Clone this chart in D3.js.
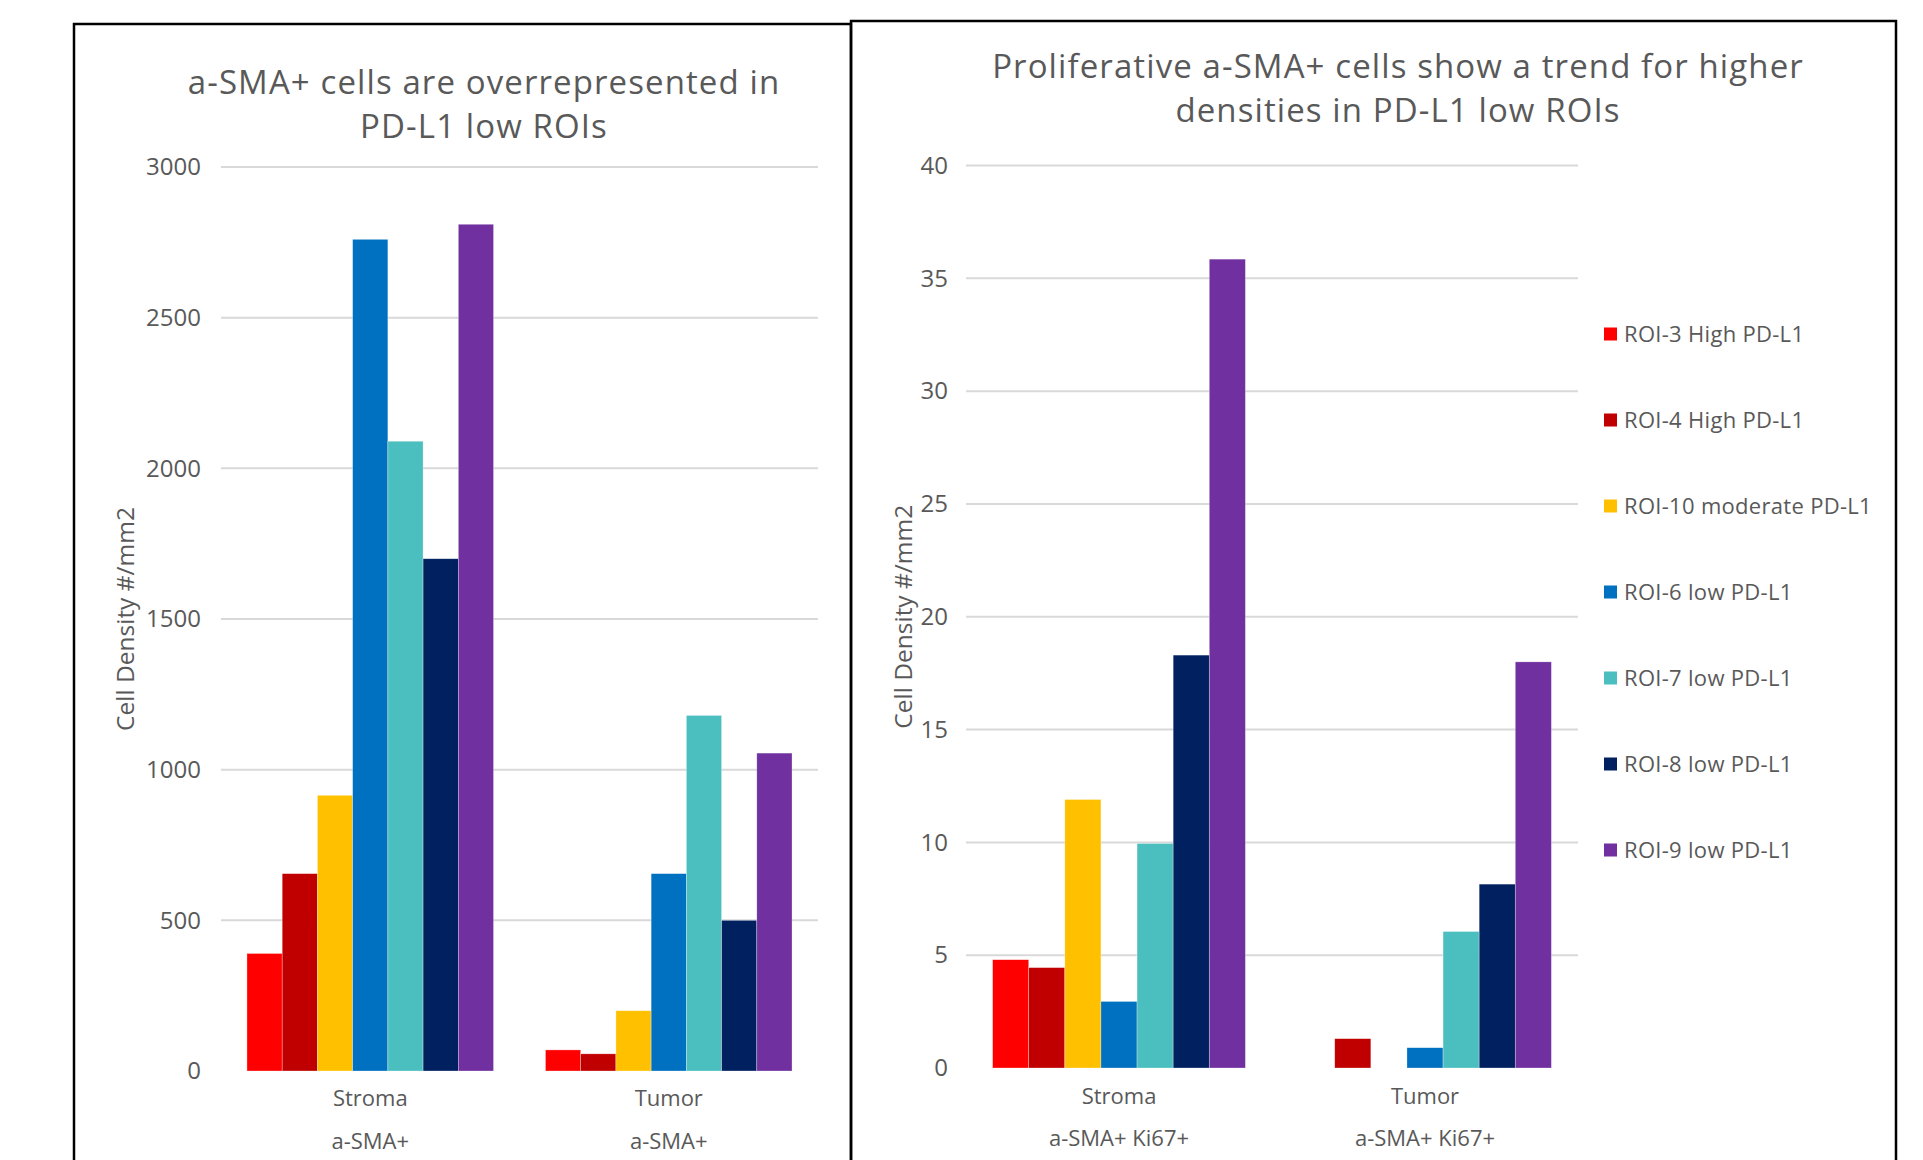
<!DOCTYPE html>
<html>
<head>
<meta charset="utf-8">
<script src="https://cdn.jsdelivr.net/npm/d3@7"></script>
<style>
  html, body { margin: 0; padding: 0; background: #fff; }
  svg { display: block; font-family: "Open Sans", Lato, sans-serif; }
</style>
</head>
<body>
<svg id="chart" width="1923" height="1160"></svg>
<script>
// ---- data ----
const categories = ["Stroma", "Tumor"];
const seriesNames = [
  "ROI-3 High PD-L1",
  "ROI-4 High PD-L1",
  "ROI-10 moderate PD-L1",
  "ROI-6 low PD-L1",
  "ROI-7 low PD-L1",
  "ROI-8 low PD-L1",
  "ROI-9 low PD-L1"
];
const seriesColors = ["#FF0000", "#C00000", "#FFC000", "#0070C0", "#4BBFBF", "#002060", "#7030A0"];

// a-SMA+ density (cells/mm2), one value per series
const smaStroma = [390, 655, 915, 2760, 2090, 1700, 2810];
const smaTumor  = [70, 57, 200, 655, 1180, 500, 1055];

// a-SMA+ Ki67+ density (cells/mm2), one value per series
const ki67Stroma = [4.8, 4.45, 11.9, 2.95, 9.95, 18.3, 35.85];
const ki67Tumor  = [0, 1.3, 0, 0.9, 6.05, 8.15, 18.0];

const smaTicks  = [0, 500, 1000, 1500, 2000, 2500, 3000];
const ki67Ticks = [0, 5, 10, 15, 20, 25, 30, 35, 40];

const smaTitle  = ["a-SMA+ cells are overrepresented in", "PD-L1 low ROIs"];
const ki67Title = ["Proliferative a-SMA+ cells show a trend for higher", "densities in PD-L1 low ROIs"];
const yTitle = "Cell Density #/mm2";

const svg = d3.select("#chart");
const textColor = "#595959";
const gridColor = "#D9D9D9";
const font = "'Open Sans', Lato, sans-serif";

// panel frames (open at the bottom edge of the page)
function frame(x0, x1, y0) {
  svg.append("path")
    .attr("d", `M${x0},1165 L${x0},${y0} L${x1},${y0} L${x1},1165`)
    .attr("fill", "none")
    .attr("stroke", "#000")
    .attr("stroke-width", 2.5);
}

function drawPanel(opt) {
  const g = svg.append("g");
  const y = d3.scaleLinear().domain([0, opt.max]).range([opt.bottom, opt.top]);
  const x0 = d3.scaleBand().domain(categories).range([opt.left, opt.right])
    .paddingInner(0.174).paddingOuter(0.087);
  const x1 = d3.scaleBand().domain(d3.range(seriesNames.length)).range([0, x0.bandwidth()]).padding(0);

  // gridlines (no line drawn at zero)
  g.append("g").selectAll("line")
    .data(opt.ticks.filter(t => t > 0))
    .join("line")
    .attr("x1", opt.left).attr("x2", opt.right)
    .attr("y1", d => y(d)).attr("y2", d => y(d))
    .attr("stroke", gridColor).attr("stroke-width", 2);

  // y axis labels
  const yAxis = d3.axisLeft(y).tickValues(opt.ticks).tickFormat(d3.format("d")).tickSize(0).tickPadding(0);
  const ya = g.append("g").attr("transform", `translate(${opt.tickX},0)`).call(yAxis);
  ya.select(".domain").remove();
  ya.selectAll("text")
    .attr("fill", textColor)
    .style("font-size", "24px")
    .style("font-family", font);

  // bars
  const rows = categories.map((c, i) => ({ cat: c, values: opt.values[i] }));
  g.append("g").selectAll("g")
    .data(rows)
    .join("g")
    .attr("transform", d => `translate(${x0(d.cat)},0)`)
    .selectAll("rect")
    .data(d => d.values.map((v, i) => ({ v, i })))
    .join("rect")
    .attr("x", d => x1(d.i))
    .attr("width", x1.bandwidth())
    .attr("y", d => y(d.v))
    .attr("height", d => y(0) - y(d.v))
    .attr("fill", d => seriesColors[d.i])
    .attr("stroke", "#ffffff")
    .attr("stroke-opacity", d => d.v > 0 ? 0.5 : 0)
    .attr("stroke-width", 0.6);

  // category labels (two lines)
  const xAxis = d3.axisBottom(x0).tickSize(0).tickPadding(0);
  const xa = g.append("g").attr("transform", `translate(0,${opt.catY})`).call(xAxis);
  xa.select(".domain").remove();
  xa.selectAll("text")
    .attr("fill", textColor)
    .attr("dy", 0)
    .style("font-size", "22px")
    .style("font-family", font);
  g.append("g").selectAll("text")
    .data(categories)
    .join("text")
    .attr("x", d => x0(d) + x0.bandwidth() / 2)
    .attr("y", opt.catY + opt.subGap)
    .attr("text-anchor", "middle")
    .attr("fill", textColor)
    .style("font-size", "22px")
    .text(opt.subLabel);

  // y title
  g.append("text")
    .attr("transform", `translate(${opt.yTitleX},${(opt.top + opt.bottom) / 2}) rotate(-90)`)
    .attr("text-anchor", "middle")
    .attr("fill", textColor)
    .style("font-size", "24.5px")
    .text(yTitle);

  // chart title
  g.append("g").selectAll("text")
    .data(opt.title)
    .join("text")
    .attr("x", opt.titleX)
    .attr("y", (d, i) => opt.titleY + i * 44)
    .attr("text-anchor", "middle")
    .attr("fill", textColor)
    .style("font-size", "33px")
    .style("letter-spacing", "1.1px")
    .text(d => d);

  return { x0, x1, y };
}

frame(74, 851, 24);
frame(851, 1896, 21);

drawPanel({
  values: [smaStroma, smaTumor],
  max: 3000, ticks: smaTicks,
  left: 221, right: 818, top: 167, bottom: 1071,
  tickX: 201, catY: 1106, subGap: 43, subLabel: "a-SMA+",
  yTitleX: 134, title: smaTitle, titleX: 484, titleY: 94
});

drawPanel({
  values: [ki67Stroma, ki67Tumor],
  max: 40, ticks: ki67Ticks,
  left: 966, right: 1578, top: 165.5, bottom: 1068,
  tickX: 948, catY: 1104, subGap: 42, subLabel: "a-SMA+ Ki67+",
  yTitleX: 912, title: ki67Title, titleX: 1398, titleY: 78
});

// legend
const legend = svg.append("g").attr("transform", "translate(1604,334)");
const items = legend.selectAll("g")
  .data(seriesNames)
  .join("g")
  .attr("transform", (d, i) => `translate(0,${i * 86})`);
items.append("rect")
  .attr("x", 0).attr("y", -6.5)
  .attr("width", 13).attr("height", 13)
  .attr("fill", (d, i) => seriesColors[i]);
items.append("text")
  .attr("x", 20).attr("y", 0)
  .attr("dy", "0.35em")
  .attr("fill", textColor)
  .style("font-size", "22px")
  .style("letter-spacing", "0.3px")
  .text(d => d);
</script>
</body>
</html>
